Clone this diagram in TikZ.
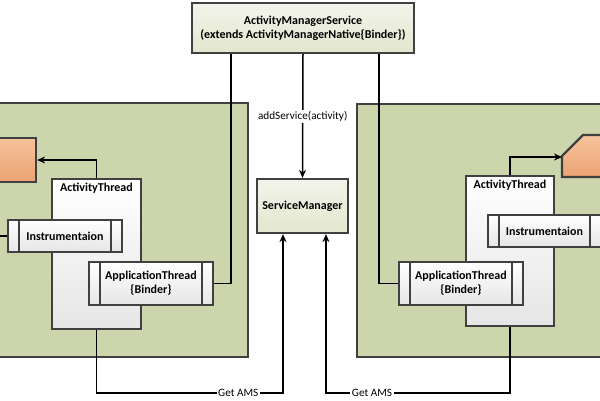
\documentclass[tikz,border=0pt]{standalone}
\usepackage{fontspec}
\setmainfont{Carlito}
\usetikzlibrary{arrows.meta}

\definecolor{panelgreen}{HTML}{CDD5AD}
\definecolor{edgegray}{HTML}{404040}
\definecolor{boxtop}{HTML}{F2F4EA}
\definecolor{boxbottom}{HTML}{E2E7CE}
\definecolor{orangetop}{HTML}{F6C39C}
\definecolor{orangebottom}{HTML}{EBA373}

\begin{document}
\begin{tikzpicture}[x=1pt,y=-1pt,
  box/.style={draw=edgegray, line width=2.2, inner sep=0, align=center,
    font=\bfseries\fontsize{12}{14}\selectfont},
  svcbox/.style={box, top color=boxtop, bottom color=boxbottom},
  threadbox/.style={box, top color=white, bottom color=black!10},
  barbox/.style={threadbox, path picture={
    \draw[edgegray, line width=2]
      ([xshift=11]path picture bounding box.north west) -- ([xshift=11]path picture bounding box.south west)
      ([xshift=-11]path picture bounding box.north east) -- ([xshift=-11]path picture bounding box.south east);}},
  panel/.style={draw=edgegray, line width=2.2, fill=panelgreen},
  procbox/.style={draw=edgegray, line width=2.2, top color=orangetop, bottom color=orangebottom},
  link/.style={line width=1.5, black},
  arr/.style={link, -{Stealth[length=8,width=7]}},
  lbl/.style={fill=white, inner sep=1.5, font=\fontsize{11.2}{13}\selectfont}]

\clip (0,0) rectangle (600,400);

% process panels
\node[panel, minimum width=253, minimum height=254] (lpanel) at (121.5,230) {};
\node[panel, minimum width=248, minimum height=253] (rpanel) at (481,230.5) {};

% activities
\node[procbox, minimum width=41, minimum height=44] (lact) at (15.5,160) {};
\draw[procbox] (562,177) -- (562,156) -- (583,135) -- (606,135) -- (606,177) -- cycle;
\coordinate (ract) at (562,157);

% system side
\node[svcbox, minimum width=222, minimum height=50] (ams) at (303,28)
  {ActivityManagerService\\(extends ActivityManagerNative\{Binder\})};
\node[svcbox, minimum width=91, minimum height=54] (sm) at (302.5,206) {ServiceManager};

% left app
\node[threadbox, minimum width=89, minimum height=150,
  label={[anchor=north, font=\bfseries\fontsize{12}{14}\selectfont, inner sep=4.5]north:ActivityThread}] (lat) at (96.5,254) {};
\node[barbox, minimum width=114, minimum height=32] (linstr) at (65,236) {Instrumentaion};
\node[barbox, minimum width=124, minimum height=43] (lapp) at (151,283.5) {ApplicationThread\\\{Binder\}};
\coordinate (lin) at (-5,236);

% right app
\node[threadbox, minimum width=88, minimum height=150,
  label={[anchor=north, font=\bfseries\fontsize{12}{14}\selectfont, inner sep=4.5]north:ActivityThread}] (rat) at (510,251) {};
\node[barbox, minimum width=113, minimum height=32] (rinstr) at (544.5,231) {Instrumentaion};
\node[barbox, minimum width=124, minimum height=43] (rapp) at (461,283.5) {ApplicationThread\\\{Binder\}};

% connectors
\draw[arr] (ams.south) -- node[lbl, midway] {addService(activity)} (sm.north);
\draw[link] ([xshift=-72]ams.south) |- (lapp.east);
\draw[link] ([xshift=76]ams.south) |- (rapp.west);
\draw[arr] (lat.north) |- (lact.east);
\draw[arr] (rat.north) |- (ract);
\draw[link] (lin) -- (linstr.west);
\draw[arr] (lat.south) -- ++(0,63) -| node[lbl, pos=0.38] {Get AMS} ([xshift=-19.5]sm.south);
\draw[arr] (rat.south) -- ++(0,66) -| node[lbl, pos=0.375] {Get AMS} ([xshift=23.5]sm.south);

\end{tikzpicture}
\end{document}
